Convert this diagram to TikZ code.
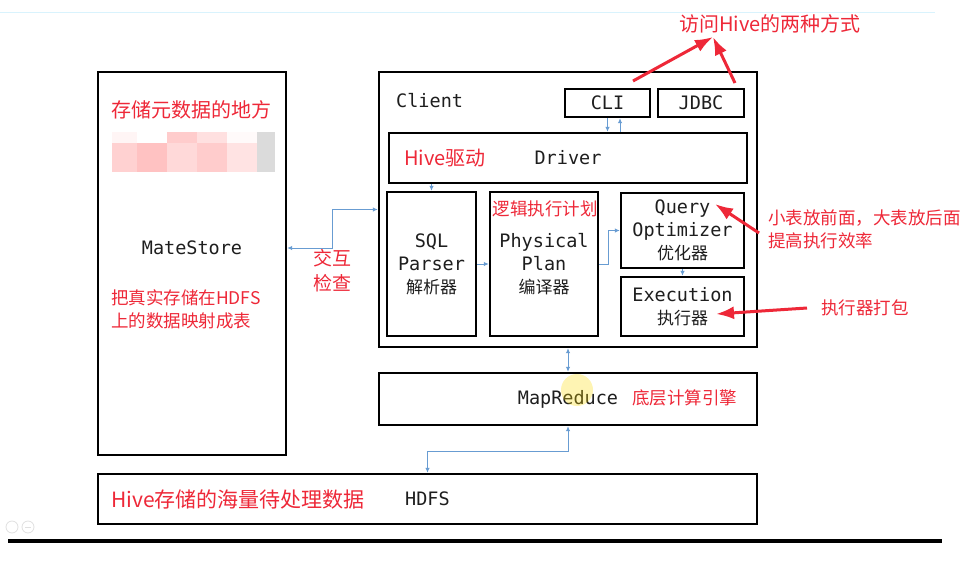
\documentclass[tikz,border=0pt]{standalone}
\usepackage{fontspec}
\setmonofont{DejaVu Sans Mono}
\newfontfamily\cjk{Noto Sans CJK SC}
\usetikzlibrary{arrows.meta}
\usetikzlibrary{positioning}
\definecolor{linkblue}{RGB}{104,156,210}
\definecolor{notered}{RGB}{238,40,56}
\definecolor{boxtext}{RGB}{30,30,30}
\newcommand\monosize{\fontsize{18.5}{23}\selectfont}
\newcommand\hansize{\fontsize{17}{23}\selectfont}
\newcommand\notesize{\fontsize{17.5}{23}\selectfont}
\newcommand\titlesize{\fontsize{20}{25}\selectfont}

\tikzset{
  box/.style={draw=black, line width=2.4pt, inner sep=0pt, text=boxtext,
    font=\ttfamily\monosize, align=center},
  label/.style={inner sep=0pt, text=boxtext, font=\ttfamily\monosize},
  link/.style={draw=linkblue, line width=1pt, -{Latex[length=5pt,width=4.5pt]}},
  twoway/.style={link, {Latex[length=5pt,width=4.5pt]}-{Latex[length=5pt,width=4.5pt]}},
  note/.style={text=notered, font=\cjk\notesize, inner sep=0pt, anchor=west, align=left},
  pointer/.style={draw=notered, line width=3pt, -{Latex[length=18pt,width=13pt]}}
}

\begin{document}
\begin{tikzpicture}[x=1pt, y=-1pt]
        \useasboundingbox[fill=white] (0,0) rectangle (978,563);
        \draw[cyan!15, line width=0.8pt] (0,12) -- (935,12);
        \draw[black, line width=4pt] (8,541) -- (942,541);
        \draw[black!12, line width=0.8pt] (12,527) circle (6pt) (28,527) circle (6pt);
        \draw[black!12, line width=0.8pt] (25,527) -- (31,527);

        % meta store
        \node[box, minimum width=188pt, minimum height=383pt] (matestore) at (192,263.5) {};
        \node[note, font=\cjk\titlesize] (metanote) at (111,110) {存储元数据的地方};
        \foreach \x/\w/\c in {112/25/red!4, 167/30/red!20, 197/30/red!12, 227/30/red!2, 257/18/black!14}
            \fill[\c] (\x,132) rectangle ++(\w,11);
        \foreach \x/\w/\c in {112/25/red!18, 137/30/red!24, 167/30/red!15, 197/30/red!20, 227/30/red!11, 257/18/black!14}
            \fill[\c] (\x,143) rectangle ++(\w,29);
        \node[label] (metaname) at (192,248) {MateStore};
        \node[note] (mapnote) at (111,309.5) {把真实存储在HDFS\\上的数据映射成表};

        % client side
        \node[box, minimum width=378pt, minimum height=275pt] (client) at (568,209.5) {};
        \node[label, anchor=west] (clientname) at (396,101) {Client};
        \node[box, minimum width=85pt, minimum height=28pt] (cli) at (607.5,103) {CLI};
        \node[box, minimum width=86pt, minimum height=28pt] (jdbc) at (701,103) {JDBC};
        \node[box, minimum width=358pt, minimum height=50pt] (driver) at (568,158) {Driver};
        \node[note, font=\cjk\titlesize] (drivernote) at (404,158) {Hive驱动};
        \node[box, minimum width=89pt, minimum height=144pt] (parser) at (431.5,264)
            {SQL\\Parser\\{\cjk\hansize 解析器}};
        \node[box, minimum width=108pt, minimum height=144pt] (plan) at (544,264)
            {Physical\\Plan\\{\cjk\hansize 编译器}};
        \node[note, anchor=center] (plannote) at (545,209) {逻辑执行计划};
        \node[box, minimum width=123pt, minimum height=75pt] (optimizer) at (682.5,230.5)
            {Query\\Optimizer\\{\cjk\hansize 优化器}};
        \node[box, minimum width=123pt, minimum height=59pt] (execution) at (682.5,306.5)
            {Execution\\{\cjk\hansize 执行器}};

        % engine and storage
        \node[box, minimum width=378pt, minimum height=52pt] (mapreduce) at (568,399) {MapReduce};
        \fill[yellow!80!orange, fill opacity=0.3] (577,390) circle (16pt);
        \node[note] (mrnote) at (632,398) {底层计算引擎};
        \node[box, minimum width=659pt, minimum height=50pt] (hdfs) at (427.5,499) {};
        \node[note, font=\cjk\fontsize{21}{25}\selectfont] (hdfsnote) at (111,500) {Hive存储的海量待处理数据};
        \node[label, anchor=west] (hdfsname) at (405,499) {HDFS};

        % blue connectors
        \node[note, anchor=center, align=center, font=\cjk\fontsize{19}{25}\selectfont] (checknote) at (332,270.5) {交互\\检查};
        \draw[twoway] (client.west) -| (332,248) -- ([yshift=15.5pt]matestore.east);
        \coordinate (cliright) at ([xshift=12.5pt]cli.south);
        \draw[link] (cli.south) -- (cli.south |- driver.north);
        \draw[link] (cliright |- driver.north) -- (cliright);
        \draw[link] (parser.north |- driver.south) -- (parser.north);
        \draw[link] (parser.east) -- (plan.west);
        \draw[link] (plan.east) -- ++(9,0) |- (optimizer.west);
        \draw[link] (optimizer.south) -- (execution.north);
        \draw[twoway] (client.south) -- (mapreduce.north);
        \draw[twoway] (mapreduce.south) -- ++(0,25) -| (hdfs.north);

        % red remarks
        \node[note, font=\cjk\titlesize] (accessnote) at (679,24) {访问Hive的两种方式};
        \node[note] (joinnote) at (768,229.5) {小表放前面，大表放后面\\提高执行效率};
        \node[note] (packnote) at (821,308) {执行器打包};
        \coordinate (accesstip) at (713,37);
        \draw[pointer] (633,81) -- (accesstip);
        \draw[pointer] (735,83) -- (accesstip);
        \draw[pointer] ([xshift=-9pt]joinnote.west |- 0,233) -- (715,204);
        \draw[pointer] ([xshift=-14pt]packnote.west) -- (716,314);
    \end{tikzpicture}
\end{document}
